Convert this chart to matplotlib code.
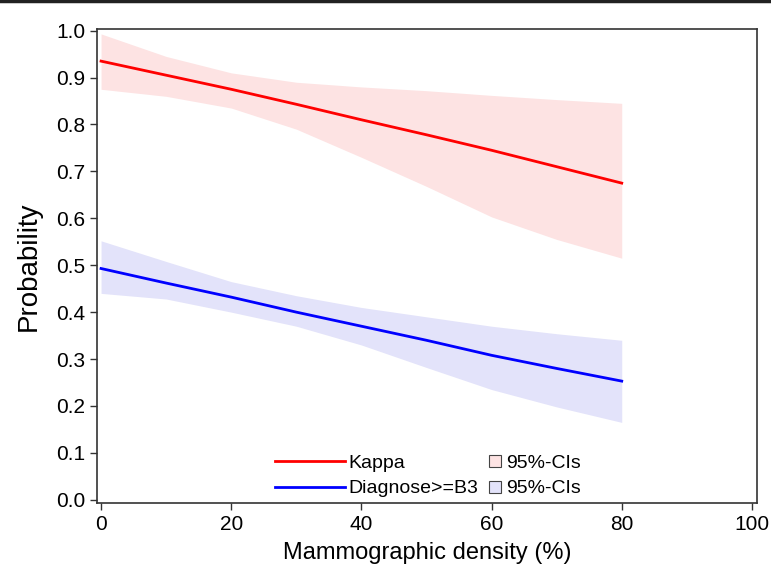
import numpy as np
import matplotlib.pyplot as plt
from matplotlib.lines import Line2D

# Values
density = [0, 10, 20, 30, 40, 50, 60, 70, 80]

kappa = [0.935, 0.905, 0.875, 0.843, 0.810, 0.778, 0.745, 0.710, 0.675]
kappa_hi = [0.993, 0.945, 0.910, 0.890, 0.880, 0.872, 0.862, 0.853, 0.845]
kappa_lo = [0.875, 0.860, 0.835, 0.790, 0.730, 0.668, 0.603, 0.555, 0.515]

diag = [0.493, 0.462, 0.432, 0.400, 0.370, 0.340, 0.308, 0.280, 0.253]
diag_hi = [0.552, 0.508, 0.465, 0.435, 0.410, 0.390, 0.370, 0.354, 0.340]
diag_lo = [0.440, 0.428, 0.400, 0.370, 0.330, 0.282, 0.235, 0.198, 0.165]

xticks = [0, 20, 40, 60, 80, 100]
yticks = [0.0, 0.1, 0.2, 0.3, 0.4, 0.5, 0.6, 0.7, 0.8, 0.9, 1.0]

plt.rcParams['font.family'] = ['Liberation Sans', 'DejaVu Sans']

fig = plt.figure(figsize=(7.71, 5.73), dpi=100)
ax = fig.add_axes([0.126, 0.122, 0.856, 0.827])

red_fill = '#fde3e3'
blue_fill = '#e3e3fa'

ax.fill_between(density, kappa_lo, kappa_hi, color=red_fill, lw=0)
ax.fill_between(density, diag_lo, diag_hi, color=blue_fill, lw=0)
ax.plot(density, kappa, color='#ff0000', lw=2)
ax.plot(density, diag, color='#0000ff', lw=2)

ax.set_xlim(-0.6, 100.8)
ax.set_ylim(-0.007, 1.003)
ax.set_xticks(xticks)
ax.set_yticks(yticks)
ax.set_xticklabels([str(t) for t in xticks])
ax.set_yticklabels([f'{t:.1f}' for t in yticks])
ax.tick_params(direction='out', length=5, width=1, labelsize=15, color='#333333')
for s in ax.spines.values():
    s.set_color('#333333')
    s.set_linewidth(1.2)

ax.set_xlabel('Mammographic density (%)', fontsize=17, labelpad=6)
ax.set_ylabel('Probability', fontsize=20, labelpad=10)

# legend: lines on the left, CI squares on the right
line_handles = [Line2D([], [], color='#ff0000', lw=2),
                Line2D([], [], color='#0000ff', lw=2)]
leg1 = ax.legend(line_handles, ['Kappa', 'Diagnose>=B3'], frameon=False,
                 fontsize=14, loc='lower left', bbox_to_anchor=(0.27, 0.012),
                 handlelength=3.6, handletextpad=0.15, labelspacing=0.4,
                 borderpad=0, borderaxespad=0)
ax.add_artist(leg1)

ci_handles = [Line2D([], [], ls='none', marker='s', markersize=9,
                     markerfacecolor=red_fill, markeredgecolor='#444444', markeredgewidth=0.8),
              Line2D([], [], ls='none', marker='s', markersize=9,
                     markerfacecolor=blue_fill, markeredgecolor='#444444', markeredgewidth=0.8)]
ax.legend(ci_handles, ['95%-CIs', '95%-CIs'], frameon=False,
          fontsize=14, loc='lower left', bbox_to_anchor=(0.593, 0.012),
          handlelength=0.7, handletextpad=0.2, labelspacing=0.4,
          borderpad=0, borderaxespad=0)

# dark rule across the top edge of the image
fig.add_artist(Line2D([0, 1], [0.998, 0.998], color='#222222', lw=2.5,
                      transform=fig.transFigure))

fig.savefig('out.png', dpi=100)
